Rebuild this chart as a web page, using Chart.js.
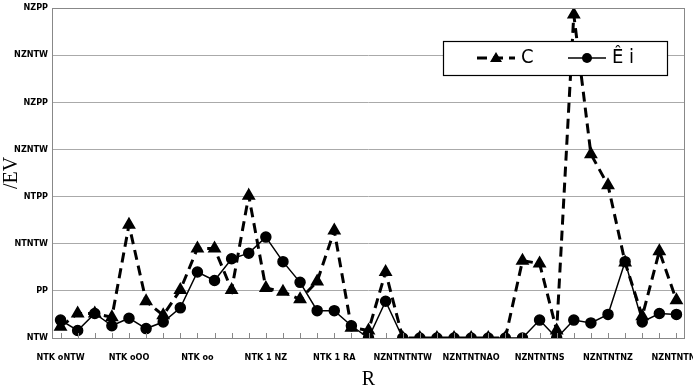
<!DOCTYPE html>
<html>
<head>
<meta charset="utf-8">
<script src="https://cdn.jsdelivr.net/npm/chart.js@4.4.0/dist/chart.umd.min.js"></script>
<style>
  html, body { margin: 0; padding: 0; background: #fff; }
  #wrap { width: 693px; height: 392px; }
</style>
</head>
<body>
<div id="wrap"><canvas id="c" width="693" height="392"></canvas></div>
<script>
// garbled labels kept as they appear in the picture
var tickLabels = ['NTK oNTW', 'NTK oOO', 'NTK oo', 'NTK 1 NZ', 'NTK 1 RA',
                  'NZNTNTNTW', 'NZNTNTNAO', 'NZNTNTNS', 'NZNTNTNZ', 'NZNTNTNZ'];
var yTickLabels = ['NTW', 'PP', 'NTNTW', 'NTPP', 'NZNTW', 'NZPP', 'NZNTW', 'NZPP'];

var seriesC = [12, 26, 26, 22, 120, 39, 24, 51, 95, 95, 51, 151, 53, 49, 41, 60, 114, 11, 8, 70,
               0, 0, 0, 0, 0, 0, 0, 82, 79, 8, 343, 195, 162, 80, 23, 92, 40];
var seriesEi = [19, 8, 26, 13, 21, 10, 17, 32, 70, 61, 84, 90, 107, 81, 59, 29, 29, 13, 0, 39,
                0, 0, 0, 0, 0, 0, 0, 0, 19, 0, 19, 16, 25, 81, 17, 26, 25];

var categories = [];
for (var i = 0; i < seriesC.length; i++) {
	categories.push(i % 4 === 0 ? tickLabels[i / 4] : '');
}

var labelFont = { family: "'DejaVu Sans Condensed', 'Liberation Sans Narrow', sans-serif", size: 9, weight: 'bold' };

// frame round the plot and the small inner ticks on the x axis
var framePlugin = {
	id: 'frame',
	afterDraw: function(chart) {
		var ctx = chart.ctx, a = chart.chartArea, xs = chart.scales.x;
		ctx.save();
		ctx.strokeStyle = '#888';
		ctx.lineWidth = 1;
		ctx.strokeRect(a.left + 0.5, a.top + 0.5, a.right - a.left - 1, a.bottom - a.top);
		ctx.beginPath();
		for (var i = 0; i < categories.length; i++) {
			var x = Math.round(xs.getPixelForValue(i)) + 0.5;
			ctx.moveTo(x, a.bottom);
			ctx.lineTo(x, a.bottom - 5);
		}
		ctx.stroke();
		ctx.restore();
	}
};

// boxed legend inside the plot
var boxLegend = {
	id: 'boxLegend',
	afterDraw: function(chart) {
		var ctx = chart.ctx, a = chart.chartArea;
		var w = 224, h = 34;
		var x0 = a.right - 18 - w, y0 = a.top + 33;
		ctx.save();
		ctx.fillStyle = '#fff';
		ctx.fillRect(x0, y0, w, h);
		ctx.strokeStyle = '#000';
		ctx.lineWidth = 1.2;
		ctx.strokeRect(x0 + 0.5, y0 + 0.5, w, h);
		var cy = y0 + h / 2;
		var items = [
			{ ds: chart.data.datasets[0], x: x0 + 34 },
			{ ds: chart.data.datasets[1], x: x0 + 125 }
		];
		items.forEach(function(it) {
			ctx.strokeStyle = '#000';
			ctx.lineWidth = it.ds.borderWidth;
			ctx.setLineDash(it.ds.borderDash || []);
			ctx.beginPath();
			ctx.moveTo(it.x, cy);
			ctx.lineTo(it.x + 38, cy);
			ctx.stroke();
			ctx.setLineDash([]);
			ctx.fillStyle = '#000';
			ctx.beginPath();
			if (it.ds.pointStyle === 'triangle') {
				ctx.moveTo(it.x + 19, cy - 6);
				ctx.lineTo(it.x + 25, cy + 4);
				ctx.lineTo(it.x + 13, cy + 4);
				ctx.closePath();
			} else {
				ctx.arc(it.x + 19, cy, 5, 0, Math.PI * 2);
			}
			ctx.fill();
			ctx.font = "20px 'DejaVu Sans Condensed', sans-serif";
			ctx.textBaseline = 'middle';
			ctx.fillText(it.ds.label, it.x + 44, cy);
		});
		ctx.restore();
	}
};

new Chart(document.getElementById('c'), {
	type: 'line',
	data: {
		labels: categories,
		datasets: [{
			label: 'C',
			data: seriesC,
			borderColor: '#000',
			backgroundColor: '#000',
			borderWidth: 3,
			borderDash: [10, 6],
			pointStyle: 'triangle',
			pointRadius: 5,
			tension: 0
		}, {
			label: 'Ê i',
			data: seriesEi,
			borderColor: '#000',
			backgroundColor: '#000',
			borderWidth: 1.5,
			pointStyle: 'circle',
			pointRadius: 5,
			tension: 0
		}]
	},
	options: {
		responsive: false,
		animation: false,
		layout: { padding: { top: 7, right: -5, left: 0, bottom: 0 } },
		plugins: { legend: { display: false }, tooltip: { enabled: false } },
		scales: {
			x: {
				offset: true,
				grid: { display: false },
				border: { display: false },
				ticks: { autoSkip: false, maxRotation: 0, color: '#000', font: labelFont, padding: 6 },
				title: { display: true, text: 'R', color: '#000', font: { family: "'Liberation Serif', serif", size: 20 }, padding: 0 },
				afterFit: function(s) { s.height = 54; s.paddingLeft = 0; s.paddingRight = 0; }
			},
			y: {
				min: 0,
				max: 350,
				border: { display: false },
				grid: { color: '#aaa', drawTicks: false },
				ticks: {
					stepSize: 50,
					color: '#000',
					font: labelFont,
					padding: 4,
					callback: function(v) { return yTickLabels[Math.round(v / 50)]; }
				},
				title: { display: true, text: '/EV', color: '#000', font: { family: "'Liberation Serif', serif", size: 20 }, padding: 0 },
				afterFit: function(s) { s.width = 52; s.paddingTop = 0; s.paddingBottom = 0; }
			}
		}
	},
	plugins: [framePlugin, boxLegend]
});
</script>
</body>
</html>
